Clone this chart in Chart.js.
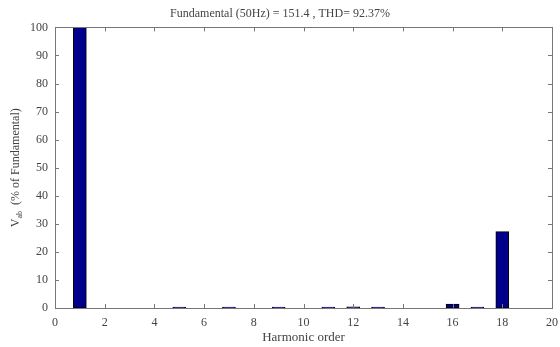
<!DOCTYPE html>
<html>
<head>
<meta charset="utf-8">
<script src="https://cdn.jsdelivr.net/npm/chart.js@4.4.0/dist/chart.umd.min.js"></script>
<style>
  html, body { margin: 0; padding: 0; background: #fff; }
  canvas { display: block; }
</style>
</head>
<body>
<canvas id="fftChart" width="560" height="347"></canvas>
<script>
// ===== DATA =====
const harmonicOrders = [1, 5, 7, 9, 11, 12, 13, 16, 17, 18];
const magnitudes = [100, 0.3, 0.3, 0.3, 0.3, 0.4, 0.3, 1.4, 0.3, 27.2];
const xTicks = [0, 2, 4, 6, 8, 10, 12, 14, 16, 18, 20];
const yTicks = [0, 10, 20, 30, 40, 50, 60, 70, 80, 90, 100];
const chartTitle = 'Fundamental (50Hz) = 151.4 , THD= 92.37%';
const xTitle = 'Harmonic order';

const serif = '"Liberation Serif", "DejaVu Serif", serif';
const textColor = '#444';
const axisColor = '#777';

// box + inward ticks on all four sides (matlab style), y label with subscript
const matlabAxes = {
    id: 'matlabAxes',
    afterDatasetsDraw(chart) {
        const { ctx, chartArea: a, scales } = chart;
        ctx.save();
        ctx.strokeStyle = axisColor;
        ctx.lineWidth = 1;
        ctx.strokeRect(Math.round(a.left) + 0.5, Math.round(a.top) + 0.5,
            Math.round(a.right - a.left), Math.round(a.bottom - a.top));
        const len = 4;
        ctx.beginPath();
        xTicks.forEach(v => {
            const px = Math.round(scales.x.getPixelForValue(v)) + 0.5;
            ctx.moveTo(px, a.bottom); ctx.lineTo(px, a.bottom - len);
            ctx.moveTo(px, a.top); ctx.lineTo(px, a.top + len);
        });
        yTicks.forEach(v => {
            const py = Math.round(scales.y.getPixelForValue(v)) + 0.5;
            ctx.moveTo(a.left, py); ctx.lineTo(a.left + len, py);
            ctx.moveTo(a.right, py); ctx.lineTo(a.right - len, py);
        });
        ctx.stroke();
        ctx.restore();
    },
    afterDraw(chart) {
        const { ctx, chartArea: a } = chart;
        ctx.save();
        ctx.translate(15, (a.top + a.bottom) / 2);
        ctx.rotate(-Math.PI / 2);
        ctx.fillStyle = textColor;
        ctx.textBaseline = 'alphabetic';
        const big = '12px ' + serif, small = '8px ' + serif;
        const parts = [['V', big, 0], ['ab', small, 3], ['  (% of Fundamental)', big, 0]];
        let w = 0;
        parts.forEach(p => { ctx.font = p[1]; w += ctx.measureText(p[0]).width; });
        let x = -w / 2;
        parts.forEach(p => {
            ctx.font = p[1];
            ctx.fillText(p[0], x, 4 + p[2]);
            x += ctx.measureText(p[0]).width;
        });
        ctx.restore();
    }
};

new Chart(document.getElementById('fftChart'), {
    type: 'bar',
    data: {
        datasets: [{
            data: harmonicOrders.map((h, i) => ({ x: h, y: magnitudes[i] })),
            backgroundColor: '#00008b',
            borderColor: '#000',
            borderWidth: 1,
            borderSkipped: false,
            barThickness: 13
        }]
    },
    options: {
        responsive: false,
        animation: false,
        layout: { padding: { left: 0, right: 0, top: 0, bottom: 0 } },
        plugins: {
            legend: { display: false },
            tooltip: { enabled: false },
            title: {
                display: true,
                text: chartTitle,
                color: textColor,
                font: { family: serif, size: 12, weight: 'normal' },
                padding: { top: 7, bottom: 6 }
            }
        },
        scales: {
            x: {
                type: 'linear',
                min: 0,
                max: 20,
                offset: false,
                grid: { display: false, drawTicks: false },
                border: { display: false },
                ticks: {
                    stepSize: 2,
                    padding: 8,
                    maxRotation: 0,
                    color: textColor,
                    font: { family: serif, size: 12 }
                },
                title: {
                    display: true,
                    text: xTitle,
                    color: textColor,
                    font: { family: serif, size: 13 },
                    padding: { top: 0, bottom: 2 }
                },
                afterFit(s) {
                    s.height = 39;
                    s.paddingRight = 8;
                }
            },
            y: {
                min: 0,
                max: 100,
                grid: { display: false, drawTicks: false },
                border: { display: false },
                ticks: {
                    stepSize: 10,
                    padding: 7,
                    color: textColor,
                    font: { family: serif, size: 12 }
                },
                afterFit(s) { s.width = 55; }
            }
        }
    },
    plugins: [matlabAxes]
});
</script>
</body>
</html>
